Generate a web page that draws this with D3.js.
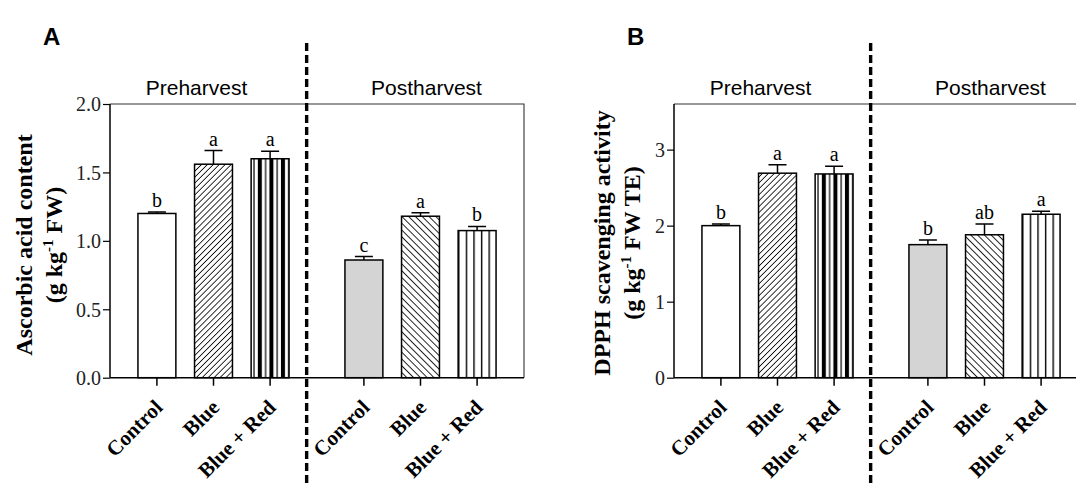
<!DOCTYPE html>
<html>
<head>
<meta charset="utf-8">
<script src="https://cdn.jsdelivr.net/npm/d3@7"></script>
<style>
  html, body { margin: 0; padding: 0; background: #fff; }
  svg { display: block; }
</style>
</head>
<body>
<svg id="chart" width="1076" height="485"></svg>
<script>
// ---------- data ----------
const phases = ["Preharvest", "Postharvest"];
const treatments = ["Control", "Blue", "Blue + Red"];

const ascorbicPre = [1.20, 1.56, 1.60];
const ascorbicPreErr = [0.01, 0.10, 0.055];
const ascorbicPost = [0.86, 1.18, 1.075];
const ascorbicPostErr = [0.025, 0.025, 0.03];
const ascorbicPreLetters = ["b", "a", "a"];
const ascorbicPostLetters = ["c", "a", "b"];
const ascorbicTicks = [0, 0.5, 1.0, 1.5, 2.0];

const dpphPre = [2.00, 2.69, 2.68];
const dpphPreErr = [0.02, 0.11, 0.10];
const dpphPost = [1.75, 1.88, 2.15];
const dpphPostErr = [0.06, 0.14, 0.04];
const dpphPreLetters = ["b", "a", "a"];
const dpphPostLetters = ["b", "ab", "a"];
const dpphTicks = [0, 1, 2, 3];

// ---------- setup ----------
const svg = d3.select("#chart");
svg.append("rect").attr("width", 1076).attr("height", 485).attr("fill", "#fff");
const SERIF = "'Liberation Serif', 'Times New Roman', serif";
const SANS = "'Liberation Sans', Arial, sans-serif";

const defs = svg.append("defs");
// Preharvest Blue: "///" hatch
const hu = defs.append("pattern").attr("id", "hatchUp").attr("patternUnits", "userSpaceOnUse")
  .attr("width", 4.2).attr("height", 4.2).attr("patternTransform", "rotate(45)");
hu.append("rect").attr("width", 4.2).attr("height", 4.2).attr("fill", "#fff");
hu.append("line").attr("x1", 0).attr("y1", 0).attr("x2", 0).attr("y2", 4.2)
  .attr("stroke", "#000").attr("stroke-width", 1.6);
// Postharvest Blue: "\\\" hatch
const hd = defs.append("pattern").attr("id", "hatchDown").attr("patternUnits", "userSpaceOnUse")
  .attr("width", 4.8).attr("height", 4.8).attr("patternTransform", "rotate(-45)");
hd.append("rect").attr("width", 4.8).attr("height", 4.8).attr("fill", "#fff");
hd.append("line").attr("x1", 0).attr("y1", 0).attr("x2", 0).attr("y2", 4.8)
  .attr("stroke", "#000").attr("stroke-width", 1.7);
// Preharvest Blue + Red: thick/thin vertical stripes
const st = defs.append("pattern").attr("id", "stripesThick").attr("patternUnits", "objectBoundingBox")
  .attr("width", 0.305).attr("height", 1);
st.append("rect").attr("width", 20).attr("height", 400).attr("fill", "#fff");
st.append("rect").attr("x", 2.3).attr("width", 1.2).attr("height", 400).attr("fill", "#000");
st.append("rect").attr("x", 6.7).attr("width", 4).attr("height", 400).attr("fill", "#000");
// Postharvest Blue + Red: thin vertical lines
const sn = defs.append("pattern").attr("id", "stripesThin").attr("patternUnits", "objectBoundingBox")
  .attr("width", 0.2).attr("height", 1);
sn.append("rect").attr("width", 20).attr("height", 400).attr("fill", "#fff");
sn.append("rect").attr("x", 0).attr("width", 1.4).attr("height", 400).attr("fill", "#000");

const fills = {
  Preharvest: ["#ffffff", "url(#hatchUp)", "url(#stripesThick)"],
  Postharvest: ["#d4d4d4", "url(#hatchDown)", "url(#stripesThin)"]
};

function drawPanel(opt) {
  const g = svg.append("g").attr("transform", `translate(${opt.left},0)`);
  const W = 414, top = 104, bottom = 377.7;

  const y = d3.scaleLinear().domain(opt.domain).range([bottom, top]);
  const outer = d3.scaleBand().domain(phases).range([0, W]).paddingInner(0.2).paddingOuter(0.1);
  const inner = d3.scalePoint().domain(treatments).range([0, outer.bandwidth()]).padding(0.463);
  const barW = inner.step() * 0.67;
  const cx = (p, t) => outer(p) + inner(t);

  // frame (top + right)
  g.append("path").attr("d", `M0,${top}H${W}V${bottom}`)
    .attr("fill", "none").attr("stroke", "#333").attr("stroke-width", 1.1);

  const groups = [
    { phase: "Preharvest", vals: opt.pre, errs: opt.preErr, letters: opt.preLetters },
    { phase: "Postharvest", vals: opt.post, errs: opt.postErr, letters: opt.postLetters }
  ];
  groups.forEach(grp => {
    const rows = treatments.map((t, i) => ({ t, i, v: grp.vals[i], e: grp.errs[i], l: grp.letters[i] }));
    const bg = g.append("g");
    // error bars
    bg.selectAll("path.err").data(rows).join("path")
      .attr("d", d => {
        const x = cx(grp.phase, d.t);
        return `M${x},${y(d.v)}V${y(d.v + d.e)}M${x - 9},${y(d.v + d.e)}H${x + 9}`;
      })
      .attr("fill", "none").attr("stroke", "#000").attr("stroke-width", 1.5);
    // bars
    bg.selectAll("rect.bar").data(rows).join("rect")
      .attr("x", d => cx(grp.phase, d.t) - barW / 2)
      .attr("y", d => y(d.v))
      .attr("width", barW)
      .attr("height", d => y(0) - y(d.v))
      .attr("fill", d => fills[grp.phase][d.i])
      .attr("stroke", "#000").attr("stroke-width", 1.5);
    // significance letters
    bg.selectAll("text.sig").data(rows).join("text")
      .attr("x", d => cx(grp.phase, d.t))
      .attr("y", d => y(d.v + d.e) - 5)
      .attr("text-anchor", "middle")
      .attr("font-family", SERIF).attr("font-size", 20)
      .text(d => d.l);
    // phase label
    g.append("text")
      .attr("x", outer(grp.phase) + outer.bandwidth() / 2 + (grp.phase === "Preharvest" ? -17 : 6))
      .attr("y", 95)
      .attr("text-anchor", "middle")
      .attr("font-family", SANS).attr("font-size", 21)
      .text(grp.phase);
  });

  // y axis
  const ya = g.append("g").call(d3.axisLeft(y).tickValues(opt.ticks).tickFormat(opt.fmt).tickSize(7).tickPadding(2));
  ya.select(".domain").attr("d", `M0,${top}V${bottom}`).attr("stroke-width", 1.5);
  ya.selectAll(".tick line").attr("stroke-width", 1.2);
  ya.selectAll(".tick text").attr("font-family", SERIF).attr("font-size", 20).attr("fill", "#222").attr("dy", "0.34em");

  // x axis
  const allX = [];
  phases.forEach(p => treatments.forEach(t => allX.push({ p, t, x: cx(p, t) })));
  g.append("path").attr("d", `M0,${bottom}H${W}`).attr("stroke", "#000").attr("stroke-width", 1.5);
  g.selectAll("line.xt").data(allX).join("line")
    .attr("x1", d => d.x).attr("x2", d => d.x)
    .attr("y1", bottom).attr("y2", bottom + 8)
    .attr("stroke", "#000").attr("stroke-width", 1.5);
  g.selectAll("text.xl").data(allX).join("text")
    .attr("transform", d => `translate(${d.x + 7},${bottom + 31}) rotate(-45)`)
    .attr("text-anchor", "end")
    .attr("font-family", SERIF).attr("font-size", 21).attr("font-weight", "bold")
    .text(d => d.t);

  // y title
  const yt = g.append("g").attr("transform", `translate(0,${opt.titleY})`);
  yt.append("text").attr("transform", `translate(${opt.titleX1},0) rotate(-90)`)
    .attr("text-anchor", "middle").attr("font-family", SERIF).attr("font-weight", "bold").attr("font-size", 24)
    .text(opt.title1);
  const t2 = yt.append("text").attr("transform", `translate(${opt.titleX2},0) rotate(-90)`)
    .attr("text-anchor", "middle").attr("font-family", SERIF).attr("font-weight", "bold").attr("font-size", 24);
  t2.append("tspan").text("(g kg");
  t2.append("tspan").attr("dy", -9).attr("font-size", 15).text("-1");
  t2.append("tspan").attr("dy", 9).text(opt.title2rest);

  // dashed separator
  const preEnd = outer("Preharvest") + outer.bandwidth();
  const dashX = preEnd + (outer("Postharvest") - preEnd) * 0.25;
  g.append("line").attr("x1", dashX).attr("x2", dashX).attr("y1", 43).attr("y2", 485)
    .attr("stroke", "#000").attr("stroke-width", 3.4).attr("stroke-dasharray", "8,4");

  // panel letter
  svg.append("text").attr("x", opt.left + opt.letterX).attr("y", 45)
    .attr("font-family", SANS).attr("font-weight", "bold").attr("font-size", 24)
    .text(opt.letter);
}

drawPanel({
  left: 110, domain: [0, 2.0], ticks: ascorbicTicks, fmt: d3.format(".1f"),
  pre: ascorbicPre, preErr: ascorbicPreErr, preLetters: ascorbicPreLetters,
  post: ascorbicPost, postErr: ascorbicPostErr, postLetters: ascorbicPostLetters,
  title1: "Ascorbic acid content", title2rest: " FW)",
  titleX1: -78, titleX2: -48, titleY: 245, letter: "A", letterX: -67
});
drawPanel({
  left: 674, domain: [0, 3.6], ticks: dpphTicks, fmt: d3.format("d"),
  pre: dpphPre, preErr: dpphPreErr, preLetters: dpphPreLetters,
  post: dpphPost, postErr: dpphPostErr, postLetters: dpphPostLetters,
  title1: "DPPH scavenging activity", title2rest: " FW TE)",
  titleX1: -64, titleX2: -34, titleY: 243, letter: "B", letterX: -47
});
</script>
</body>
</html>
